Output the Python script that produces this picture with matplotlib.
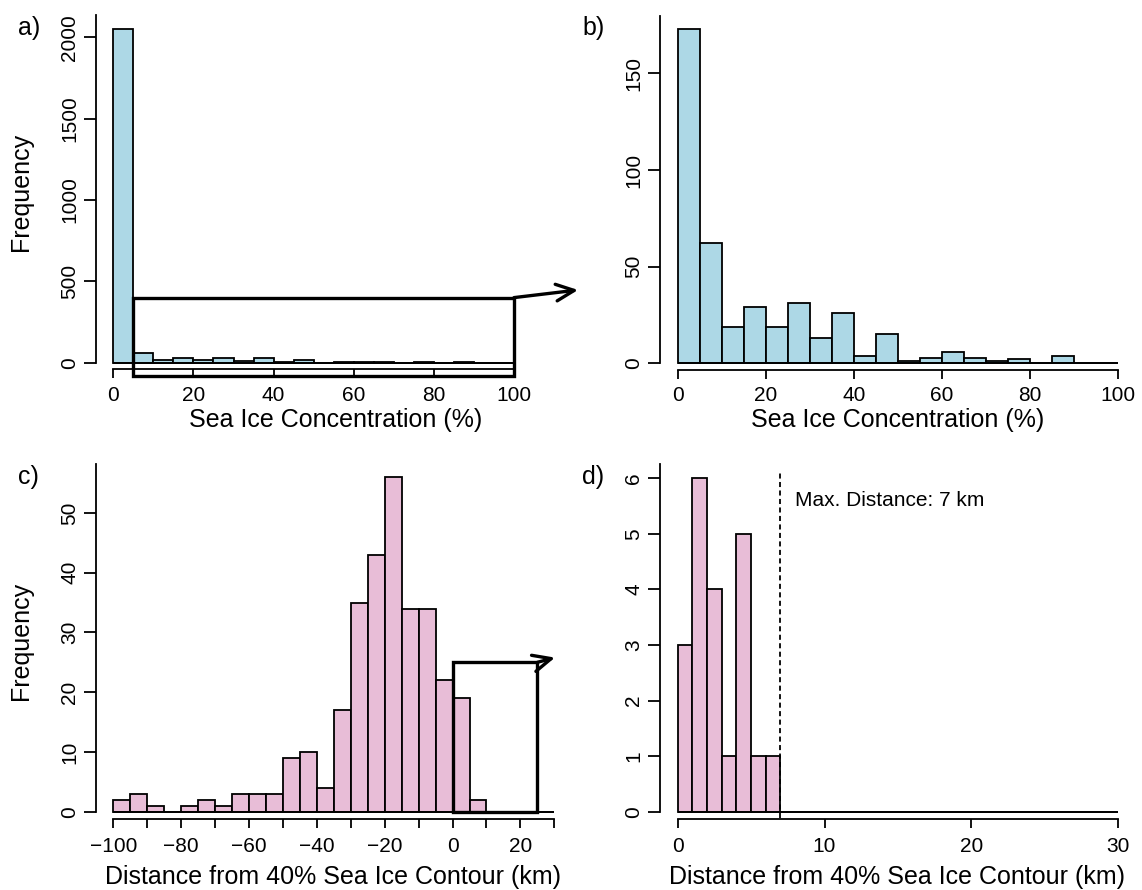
import matplotlib
matplotlib.use('Agg')
import matplotlib.pyplot as plt
import numpy as np
from matplotlib.patches import Rectangle

plt.rcParams['font.family'] = ['Liberation Sans', 'DejaVu Sans']
plt.rcParams['axes.unicode_minus'] = True

W, H = 1142, 890

# ---------------- data ----------------
conc_edges = list(range(0, 105, 5))
conc_counts_all = [2050, 62, 19, 29, 19, 31, 13, 26, 4, 15, 1, 3, 6, 3, 1, 2, 0, 4, 0, 0]
conc_counts_ice = [173, 62, 19, 29, 19, 31, 13, 26, 4, 15, 1, 3, 6, 3, 1, 2, 0, 4, 0, 0]

dist_edges = list(range(-100, 35, 5))
dist_counts_all = [2, 3, 1, 0, 1, 2, 1, 3, 3, 3, 9, 10, 4, 17, 35, 43, 56, 34, 34, 22,
                   19, 2, 0, 0, 0, 0]

dist_edges_pos = list(range(0, 31, 1))
dist_counts_pos = [3, 6, 4, 1, 5, 1, 1] + [0] * 23

max_distance = 7

a_xticks = [0, 20, 40, 60, 80, 100]
a_yticks = [0, 500, 1000, 1500, 2000]
b_xticks = [0, 20, 40, 60, 80, 100]
b_yticks = [0, 50, 100, 150]
c_xticks = list(range(-100, 40, 10))
c_xticklabels = ['\u2212100', '', '\u221280', '', '\u221260', '', '\u221240', '', '\u221220', '',
                 '0', '', '20', '']
c_yticks = [0, 10, 20, 30, 40, 50]
d_xticks = [0, 10, 20, 30]
d_yticks = [0, 1, 2, 3, 4, 5, 6]

BLUE = '#ADD8E6'
PINK = '#E8BDD7'

fig = plt.figure(figsize=(W / 100, H / 100), dpi=100)


def px_box(x0, x1, ytop, ybot):
    return [x0 / W, 1 - ybot / H, (x1 - x0) / W, (ybot - ytop) / H]


def make_axes(box, xlim, ylim, xticks, xticklabels, yticks, xbounds, xpad=6.5):
    ax = fig.add_axes(px_box(*box))
    ax.set_xlim(xlim)
    ax.set_ylim(ylim)
    for s in ['top', 'right']:
        ax.spines[s].set_visible(False)
    ax.spines['left'].set_bounds(0, ylim[1])
    ax.spines['bottom'].set_bounds(*xbounds)
    for s in ['left', 'bottom']:
        ax.spines[s].set_linewidth(1.3)
    ax.set_xticks(xticks)
    ax.set_xticklabels(xticklabels)
    ax.set_yticks(yticks)
    ax.set_yticklabels([str(v) for v in yticks], rotation=90, va='center')
    ax.tick_params(axis='x', length=6.5, width=1.3, pad=xpad, labelsize=15)
    ax.tick_params(axis='y', length=9, width=1.3, pad=3, labelsize=15)
    ax.patch.set_visible(False)
    return ax


def draw_hist(ax, edges, counts, color):
    widths = np.diff(edges)
    ax.bar(edges[:-1], counts, width=widths, align='edge', color=color,
           edgecolor='black', linewidth=1.3, zorder=2)
    ax.hlines(0, edges[0], edges[-1], color='black', linewidth=1.3, zorder=3)


# ---------------- panel a ----------------
axa = make_axes((96, 530, 15, 369.3), (-4.32, 104.0), (-40.6, 2137),
                a_xticks, [str(v) for v in a_xticks], a_yticks, (0, 100), xpad=5.5)
draw_hist(axa, conc_edges, conc_counts_all, BLUE)
axa.add_patch(Rectangle((5, -80), 95, 480, fill=False, edgecolor='black',
                        linewidth=2.4, clip_on=False, zorder=4))
axa.annotate('', xy=(116, 447), xytext=(100, 400), annotation_clip=False,
             arrowprops=dict(arrowstyle='->,head_length=0.65,head_width=0.3',
                             lw=2.4, color='black', shrinkA=0, shrinkB=0,
                             mutation_scale=20))

# ---------------- panel b ----------------
axb = make_axes((660, 1130, 16, 369.5), (-4.02, 102.66), (-3.2, 179.7),
                b_xticks, [str(v) for v in b_xticks], b_yticks, (0, 100), xpad=5.5)
draw_hist(axb, conc_edges, conc_counts_ice, BLUE)

# ---------------- panel c ----------------
axc = make_axes((96, 565, 464, 819), (-105.1, 33.15), (-1.22, 58.2),
                c_xticks, c_xticklabels, c_yticks, (-100, 30))
draw_hist(axc, dist_edges, dist_counts_all, PINK)
axc.add_patch(Rectangle((0, 0), 25, 25, fill=False, edgecolor='black',
                        linewidth=2.4, clip_on=False, zorder=4))
axc.annotate('', xy=(30.2, 25.8), xytext=(25, 25), annotation_clip=False,
             arrowprops=dict(arrowstyle='->,head_length=0.65,head_width=0.3',
                             lw=2.4, color='black', shrinkA=0, shrinkB=0,
                             mutation_scale=20))

# ---------------- panel d ----------------
axd = make_axes((660, 1130, 464.3, 819), (-1.205, 30.8), (-0.131, 6.25),
                d_xticks, [str(v) for v in d_xticks], d_yticks, (0, 30))
draw_hist(axd, dist_edges_pos, dist_counts_pos, PINK)
axd.vlines(max_distance, -0.11, 6.12, colors='black', linewidth=1.3,
           linestyles=(0, (2.8, 1.9)), zorder=5, clip_on=False)
axd.text(8.0, 5.50, 'Max. Distance: %d km' % max_distance, ha='left',
         va='baseline', fontsize=15)

# ---------------- text labels ----------------
def ftext(x, y, s, **kw):
    fig.text(x / W, 1 - y / H, s, **kw)

ftext(336, 427, 'Sea Ice Concentration (%)', ha='center', va='baseline', fontsize=18)
ftext(898, 427, 'Sea Ice Concentration (%)', ha='center', va='baseline', fontsize=18)
ftext(333, 884, 'Distance from 40% Sea Ice Contour (km)', ha='center', va='baseline', fontsize=18)
ftext(897, 884, 'Distance from 40% Sea Ice Contour (km)', ha='center', va='baseline', fontsize=18)
ftext(21.5, 192, 'Frequency', ha='center', va='center', rotation=90, fontsize=18)
ftext(21.5, 641, 'Frequency', ha='center', va='center', rotation=90, fontsize=18)

ftext(18, 35, 'a)', ha='left', va='baseline', fontsize=18)
ftext(582, 35, 'b)', ha='left', va='baseline', fontsize=18)
ftext(18, 484, 'c)', ha='left', va='baseline', fontsize=18)
ftext(582, 484, 'd)', ha='left', va='baseline', fontsize=18)

fig.savefig('out.png', dpi=100)
